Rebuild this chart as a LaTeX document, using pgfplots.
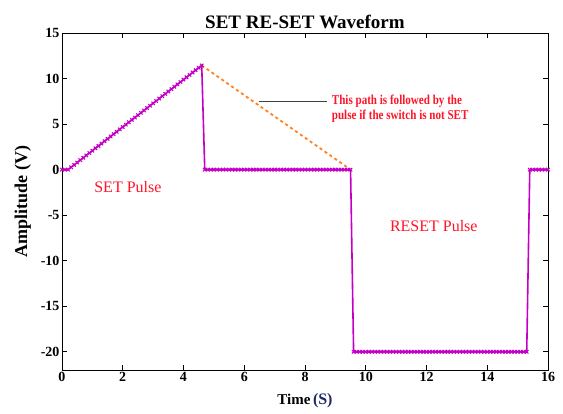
\documentclass[border=0pt]{standalone}
\usepackage{fontspec}
\setmainfont{Liberation Serif}
\newfontfamily\narrowfont[FakeStretch=0.82]{Liberation Serif}
\usepackage{pgfplots}
\pgfplotsset{compat=1.18}
\definecolor{wave}{RGB}{196,0,196}
\definecolor{alt}{RGB}{255,128,32}
\definecolor{note}{RGB}{255,20,40}
\definecolor{unit}{RGB}{30,40,100}

\pgfplotstableread{
x y
0 0
0.1 0
0.2 0
0.3 0.26
0.4 0.52
0.5 0.78
0.6 1.04
0.7 1.30
0.8 1.56
0.9 1.82
1.0 2.08
1.1 2.34
1.2 2.60
1.3 2.86
1.4 3.12
1.5 3.38
1.6 3.64
1.7 3.90
1.8 4.16
1.9 4.42
2.0 4.68
2.1 4.94
2.2 5.20
2.3 5.46
2.4 5.72
2.5 5.98
2.6 6.24
2.7 6.50
2.8 6.76
2.9 7.02
3.0 7.28
3.1 7.54
3.2 7.80
3.3 8.06
3.4 8.32
3.5 8.58
3.6 8.84
3.7 9.10
3.8 9.36
3.9 9.62
4.0 9.88
4.1 10.14
4.2 10.40
4.3 10.66
4.4 10.92
4.5 11.18
4.6 11.44
4.7 0
4.8 0
4.9 0
5.0 0
5.1 0
5.2 0
5.3 0
5.4 0
5.5 0
5.6 0
5.7 0
5.8 0
5.9 0
6.0 0
6.1 0
6.2 0
6.3 0
6.4 0
6.5 0
6.6 0
6.7 0
6.8 0
6.9 0
7.0 0
7.1 0
7.2 0
7.3 0
7.4 0
7.5 0
7.6 0
7.7 0
7.8 0
7.9 0
8.0 0
8.1 0
8.2 0
8.3 0
8.4 0
8.5 0
8.6 0
8.7 0
8.8 0
8.9 0
9.0 0
9.1 0
9.2 0
9.3 0
9.4 0
9.5 0
9.6 -20
9.7 -20
9.8 -20
9.9 -20
10.0 -20
10.1 -20
10.2 -20
10.3 -20
10.4 -20
10.5 -20
10.6 -20
10.7 -20
10.8 -20
10.9 -20
11.0 -20
11.1 -20
11.2 -20
11.3 -20
11.4 -20
11.5 -20
11.6 -20
11.7 -20
11.8 -20
11.9 -20
12.0 -20
12.1 -20
12.2 -20
12.3 -20
12.4 -20
12.5 -20
12.6 -20
12.7 -20
12.8 -20
12.9 -20
13.0 -20
13.1 -20
13.2 -20
13.3 -20
13.4 -20
13.5 -20
13.6 -20
13.7 -20
13.8 -20
13.9 -20
14.0 -20
14.1 -20
14.2 -20
14.3 -20
14.4 -20
14.5 -20
14.6 -20
14.7 -20
14.8 -20
14.9 -20
15.0 -20
15.1 -20
15.2 -20
15.3 -20
15.4 0
15.5 0
15.6 0
15.7 0
15.8 0
15.9 0
16.0 0
}\wavetable

\begin{document}
\begin{tikzpicture}
\begin{axis}[
    scale only axis,
    width=486pt, height=337pt,
    xmin=0, xmax=16, ymin=-22, ymax=15,
    xtick={0,2,...,16},
    ytick={-20,-15,...,15},
    tick align=inside,
    major tick length=5pt,
    tick style={black, line width=0.6pt},
    axis line style={line width=0.8pt},
    /pgf/number format/assume math mode=true,
    tick label style={font=\fontsize{14}{15}\selectfont\bfseries},
    xticklabel style={yshift=1pt},
    yticklabel style={xshift=1pt},
    title={\fontsize{19}{21}\selectfont\bfseries SET RE-SET Waveform},
    title style={yshift=-5pt},
    xlabel={\fontsize{15}{17}\selectfont\bfseries Time\,{\color{unit}\fontsize{16}{17}\selectfont(S)}},
    ylabel={\fontsize{18}{20}\selectfont\bfseries Amplitude (V)},
    xlabel style={yshift=-5pt},
    ylabel style={yshift=3pt},
    clip=false,
]
\addplot[alt, line width=1.8pt, dash pattern=on 3pt off 3pt]
  coordinates {(4.6,11.44) (9.5,0)};
\addplot[wave, line width=1.6pt, mark=x, mark size=2.4pt,
  mark options={line width=1.1pt}] table[x=x, y=y] {\wavetable};
\draw[black!75, line width=0.7pt] (axis cs:6.48,7.54) -- (axis cs:8.72,7.54);
\node[anchor=west, align=left, inner sep=0pt, text=note,
  font=\narrowfont\fontsize{13.5}{14.5}\selectfont\bfseries]
  at (axis cs:8.88,6.67) {This path is followed by the\\pulse if the switch is not SET};
\node[text=note, font=\fontsize{16}{18}\selectfont] at (axis cs:2.17,-1.86) {SET Pulse};
\node[text=note, font=\fontsize{16}{18}\selectfont] at (axis cs:12.24,-6.2) {RESET Pulse};
\end{axis}
\pgfresetboundingbox
\path ([shift={(-62pt,-44pt)}]current axis.south west) rectangle ([shift={(15pt,33pt)}]current axis.north east);
\end{tikzpicture}
\end{document}
